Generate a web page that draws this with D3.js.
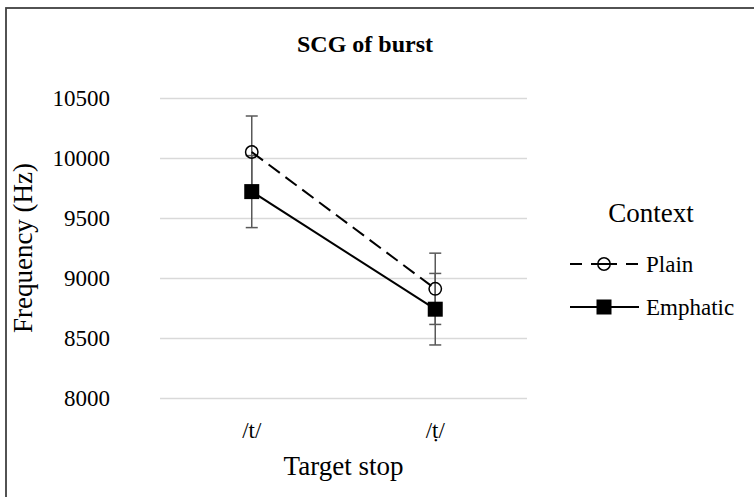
<!DOCTYPE html>
<html>
<head>
<meta charset="utf-8">
<script src="https://cdn.jsdelivr.net/npm/d3@7/dist/d3.min.js"></script>
<style>
  html, body { margin: 0; padding: 0; background: #fff; }
  svg { display: block; }
  svg text { font-family: "Liberation Serif", "Times New Roman", serif; fill: #000; }
</style>
</head>
<body>
<svg id="chart" width="754" height="497"></svg>
<script>
const categories = ["/t/", "/\u1E6D/"];
const seriesNames = ["Plain", "Emphatic"];
const plainValues = [10050, 8910];
const emphaticValues = [9720, 8740];
const plainErrors = [300, 297];
const emphaticErrors = [300, 298];
const yTicks = [8000, 8500, 9000, 9500, 10000, 10500];
const titleText = "SCG of burst";
const xTitle = "Target stop";
const yTitle = "Frequency (Hz)";
const legendTitle = "Context";

(function () {
const svg = d3.select("#chart");
const W = 754, H = 497;
const pL = 160, pR = 527, pT = 98, pB = 398;

// border
svg.append("rect").attr("x", 6).attr("y", 8).attr("width", W).attr("height", H)
  .attr("fill", "#fff").attr("stroke", "#404040").attr("stroke-width", 1.8);

const x = d3.scaleBand().domain(categories).range([pL, pR]);
const y = d3.scaleLinear().domain([8000, 10500]).range([pB, pT]);

// gridlines + y tick labels
const yAxis = d3.axisLeft(y).tickValues(yTicks).tickSize(-(pR - pL)).tickFormat(d3.format("d"));
const gy = svg.append("g").attr("transform", `translate(${pL},0)`).call(yAxis)
  .attr("font-family", null).attr("font-size", null);
gy.select(".domain").remove();
gy.selectAll(".tick line").attr("stroke", "#d9d9d9").attr("stroke-width", 1.5);
gy.selectAll(".tick text").attr("x", -50).attr("dy", "0.34em").style("font-size", "23px");

// x axis labels
const xAxis = d3.axisBottom(x).tickSize(0);
const gx = svg.append("g").attr("transform", `translate(0,${pB})`).call(xAxis)
  .attr("font-family", null).attr("font-size", null);
gx.select(".domain").remove();
gx.selectAll(".tick text").attr("y", 40).attr("dy", null).style("font-size", "23px");

// titles
svg.append("text").attr("x", 365).attr("y", 52).attr("text-anchor", "middle")
  .style("font-size", "24px").style("font-weight", "bold").text(titleText);
svg.append("text").attr("x", (pL + pR) / 2).attr("y", 475).attr("text-anchor", "middle")
  .style("font-size", "27px").text(xTitle);
svg.append("text").attr("transform", `translate(32,${(pT + pB) / 2}) rotate(-90)`)
  .attr("text-anchor", "middle").style("font-size", "27px").text(yTitle);

const cx = d => x(d) + x.bandwidth() / 2;
const series = [
  { name: seriesNames[0], values: plainValues, errors: plainErrors, dash: "14,7", marker: "circle" },
  { name: seriesNames[1], values: emphaticValues, errors: emphaticErrors, dash: null, marker: "square" }
];

// error bars
const errCol = "#595959";
series.forEach(s => {
  const g = svg.append("g");
  categories.forEach((c, i) => {
    const v = s.values[i], e = s.errors[i];
    const xx = cx(c);
    g.append("line").attr("x1", xx).attr("x2", xx).attr("y1", y(v - e)).attr("y2", y(v + e))
      .attr("stroke", errCol).attr("stroke-width", 1.5);
    [v - e, v + e].forEach(t => {
      g.append("line").attr("x1", xx - 6).attr("x2", xx + 6).attr("y1", y(t)).attr("y2", y(t))
        .attr("stroke", errCol).attr("stroke-width", 1.5);
    });
  });
});

// lines
const line = d3.line().x((d, i) => cx(categories[i])).y(d => y(d));
series.forEach(s => {
  svg.append("path").datum(s.values).attr("d", line).attr("fill", "none")
    .attr("stroke", "#000").attr("stroke-width", 2)
    .attr("stroke-dasharray", s.dash);
});

function drawMarker(g, type, px, py) {
  if (type === "circle") {
    g.append("circle").attr("cx", px).attr("cy", py).attr("r", 6.2)
      .attr("fill", "none").attr("stroke", "#000").attr("stroke-width", 1.5);
  } else {
    g.append("rect").attr("x", px - 7.5).attr("y", py - 7.5).attr("width", 15).attr("height", 15)
      .attr("fill", "#000");
  }
}
series.forEach(s => {
  const g = svg.append("g");
  s.values.forEach((v, i) => drawMarker(g, s.marker, cx(categories[i]), y(v)));
});

// legend
const lg = svg.append("g");
lg.append("text").attr("x", 651).attr("y", 222).attr("text-anchor", "middle")
  .style("font-size", "27px").text(legendTitle);
series.forEach((s, i) => {
  const ly = 264 + i * 43;
  lg.append("line").attr("x1", 570).attr("x2", 639).attr("y1", ly).attr("y2", ly)
    .attr("stroke", "#000").attr("stroke-width", 2)
    .attr("stroke-dasharray", s.dash ? "12,9,26,9,12" : null);
  drawMarker(lg, s.marker, 604, ly);
  lg.append("text").attr("x", 646).attr("y", ly).attr("dy", "0.33em")
    .style("font-size", "23px").text(s.name);
});
})();
</script>
</body>
</html>
